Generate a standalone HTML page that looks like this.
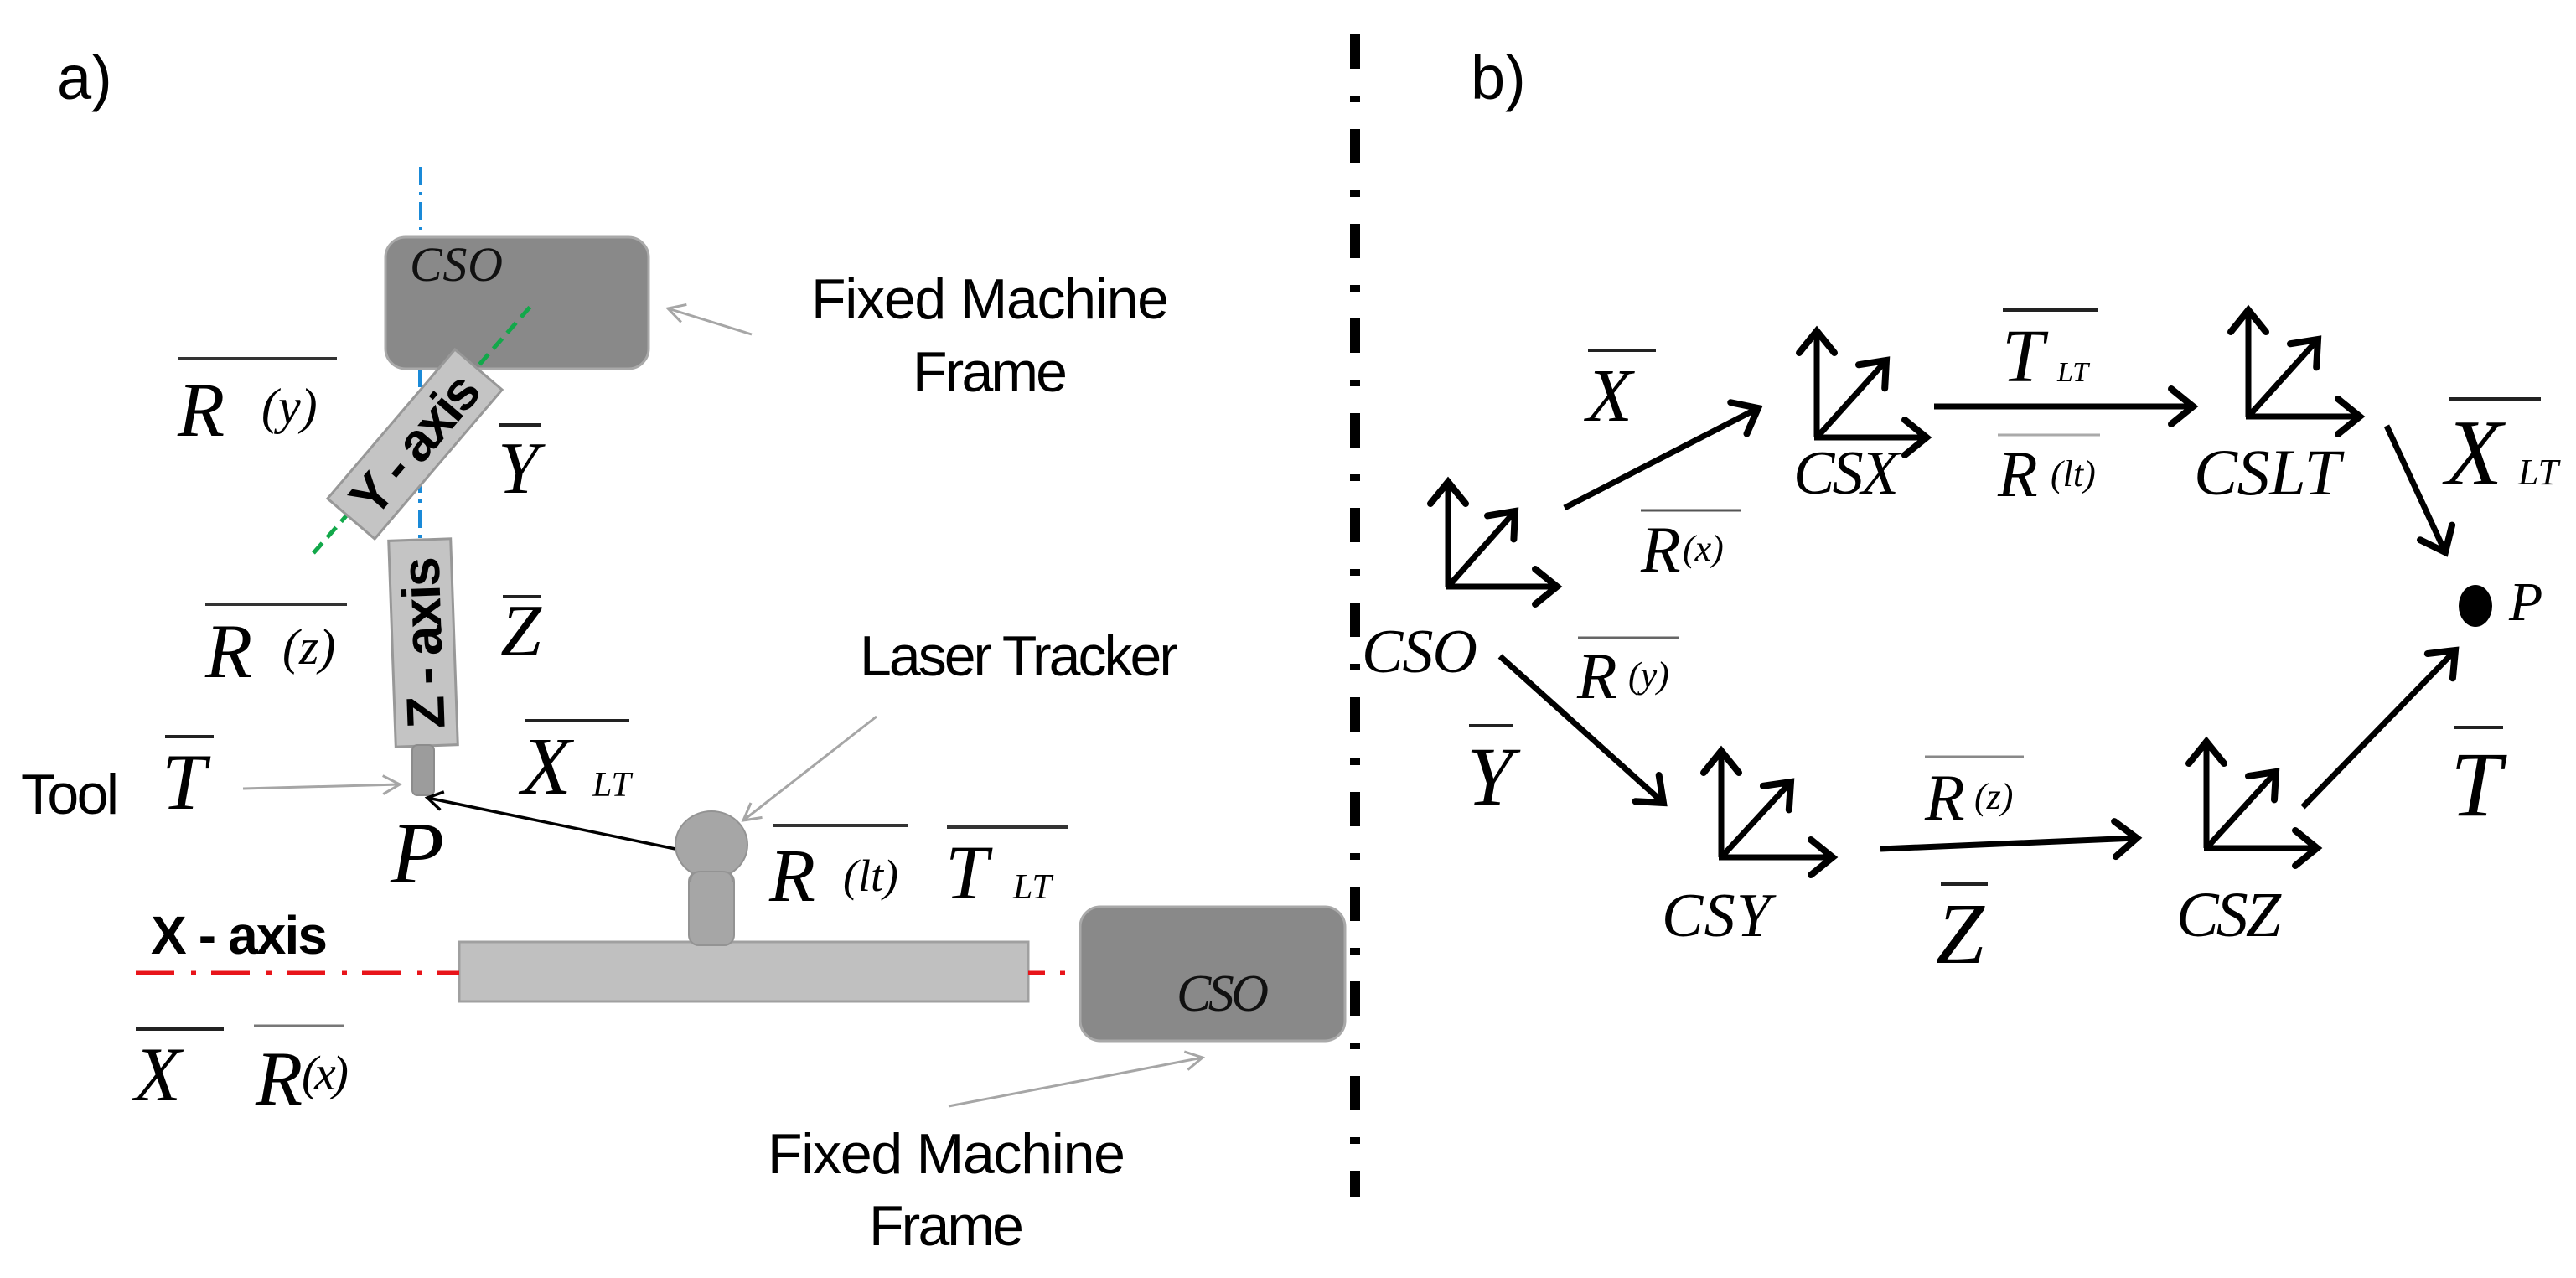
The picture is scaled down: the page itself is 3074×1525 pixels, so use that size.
<!DOCTYPE html>
<html><head><meta charset="utf-8"><style>
html,body{margin:0;padding:0;background:#fff;}
svg{display:block;}
.s{font-family:"Liberation Sans",sans-serif;}
.m{font-family:"Liberation Serif",serif;font-style:italic;}
</style></head><body>
<svg width="3074" height="1525" viewBox="0 0 3074 1525" xmlns="http://www.w3.org/2000/svg">
<defs>
<marker id="ab" markerUnits="userSpaceOnUse" markerWidth="60" markerHeight="60" refX="0" refY="0" viewBox="-40 -30 50 60" orient="auto" overflow="visible">
<path d="M-26,-21 L0,0 L-26,21" fill="none" stroke="#000" stroke-width="8" stroke-linecap="round" stroke-linejoin="miter"/>
</marker>
<marker id="ag" markerUnits="userSpaceOnUse" markerWidth="40" markerHeight="40" refX="0" refY="0" viewBox="-30 -20 40 40" orient="auto" overflow="visible">
<path d="M-20,-11 L0,0 L-20,11" fill="none" stroke="#a6a6a6" stroke-width="3"/>
</marker>
<marker id="ak" markerUnits="userSpaceOnUse" markerWidth="40" markerHeight="40" refX="0" refY="0" viewBox="-30 -20 40 40" orient="auto" overflow="visible">
<path d="M-18,-11 L0,0 L-18,11" fill="none" stroke="#000" stroke-width="3.5"/>
</marker>
</defs>

<!-- ===== Part a ===== -->
<text x="68" y="118" class="s" font-size="74">a)</text>

<line x1="502" y1="199" x2="502" y2="284" stroke="#1a8ad8" stroke-width="4" stroke-dasharray="22 8 4 8"/>
<line x1="501" y1="440" x2="501" y2="644" stroke="#1a8ad8" stroke-width="4" stroke-dasharray="22 8 4 8"/>

<rect x="460" y="283" width="314" height="157" rx="24" fill="#898989" stroke="#a9a9a9" stroke-width="3"/>
<text x="489" y="335" class="m" font-size="58" textLength="111" fill="#111">CSO</text>

<line x1="374" y1="660" x2="638" y2="360" stroke="#12a84a" stroke-width="5" stroke-dasharray="16 9"/>

<g transform="translate(495,530) rotate(-49.5)">
<rect x="-117" y="-37" width="234" height="74" fill="#c4c4c4" stroke="#989898" stroke-width="3"/>
<text x="0" y="22" text-anchor="middle" class="s" font-weight="bold" font-size="64" textLength="200">Y - axis</text>
</g>

<g transform="translate(505,767) rotate(-2)">
<rect x="-37" y="-123" width="74" height="246" fill="#c4c4c4" stroke="#989898" stroke-width="3"/>
<text transform="rotate(-90)" x="0" y="22" text-anchor="middle" class="s" font-weight="bold" font-size="64" textLength="205">Z - axis</text>
</g>
<rect x="492" y="889" width="26" height="60" rx="6" fill="#9c9c9c" stroke="#8c8c8c" stroke-width="2"/>

<line x1="212" y1="428" x2="402" y2="428" stroke="#333" stroke-width="4"/>
<text x="212" y="520" class="m" font-size="92">R</text>
<text x="312" y="505" class="m" font-size="60">(y)</text>
<line x1="595" y1="507" x2="646" y2="507" stroke="#222" stroke-width="4"/>
<text x="594" y="588" class="m" font-size="88">Y</text>
<line x1="245" y1="721" x2="414" y2="721" stroke="#333" stroke-width="4"/>
<text x="245" y="808" class="m" font-size="92">R</text>
<text x="337" y="792" class="m" font-size="60">(z)</text>
<line x1="600" y1="712" x2="646" y2="712" stroke="#222" stroke-width="4"/>
<text x="597" y="782" class="m" font-size="88">Z</text>

<text x="968" y="380" class="s" font-size="68" textLength="427">Fixed Machine</text>
<text x="1089" y="467" class="s" font-size="68" textLength="185">Frame</text>
<line x1="897" y1="399" x2="797" y2="368" stroke="#a6a6a6" stroke-width="3" marker-end="url(#ag)"/>

<text x="25" y="971" class="s" font-size="68" textLength="117">Tool</text>
<line x1="197" y1="879" x2="255" y2="879" stroke="#222" stroke-width="4"/>
<text x="193" y="965" class="m" font-size="95">T</text>
<line x1="290" y1="941" x2="477" y2="936" stroke="#a6a6a6" stroke-width="3" marker-end="url(#ag)"/>

<text x="466" y="1053" class="m" font-size="105">P</text>
<line x1="627" y1="860" x2="751" y2="860" stroke="#222" stroke-width="4"/>
<text x="622" y="947" class="m" font-size="98">X</text>
<text x="707" y="950" class="m" font-size="42">LT</text>

<text x="1026" y="806" class="s" font-size="68" textLength="380">Laser Tracker</text>
<line x1="1046" y1="855" x2="887" y2="979" stroke="#a6a6a6" stroke-width="3" marker-end="url(#ag)"/>
<line x1="806" y1="1013" x2="510" y2="952" stroke="#000" stroke-width="3.5" marker-end="url(#ak)"/>
<rect x="548" y="1124" width="679" height="71" fill="#c0c0c0" stroke="#a0a0a0" stroke-width="3"/>
<rect x="822" y="1040" width="54" height="88" rx="12" fill="#a6a6a6" stroke="#939393" stroke-width="2"/>
<ellipse cx="849" cy="1008" rx="43" ry="40" fill="#a6a6a6" stroke="#939393" stroke-width="2"/>
<rect x="824" y="1040" width="50" height="16" rx="8" fill="#a6a6a6"/>
<path d="M824,1052 Q824,1040 836,1040 L862,1040 Q874,1040 874,1052" fill="none" stroke="#939393" stroke-width="2"/>

<line x1="922" y1="985" x2="1083" y2="985" stroke="#333" stroke-width="4"/>
<text x="918" y="1075" class="m" font-size="90">R</text>
<text x="1006" y="1063" class="m" font-size="54">(lt)</text>
<line x1="1130" y1="987" x2="1275" y2="987" stroke="#333" stroke-width="4"/>
<text x="1128" y="1072" class="m" font-size="92">T</text>
<text x="1209" y="1072" class="m" font-size="42">LT</text>

<text x="180" y="1138" class="s" font-weight="bold" font-size="64" textLength="211">X - axis</text>
<line x1="162" y1="1161" x2="548" y2="1161" stroke="#e8141a" stroke-width="5" stroke-dasharray="46 20 6 18"/>
<line x1="1227" y1="1161" x2="1290" y2="1161" stroke="#e8141a" stroke-width="5" stroke-dasharray="20 18 6 18"/>

<rect x="1289" y="1082" width="316" height="160" rx="24" fill="#898989" stroke="#a9a9a9" stroke-width="3"/>
<text x="1404" y="1206" class="m" font-size="62" textLength="110" fill="#111">CSO</text>
<line x1="1132" y1="1320" x2="1435" y2="1262" stroke="#a6a6a6" stroke-width="3" marker-end="url(#ag)"/>
<text x="916" y="1400" class="s" font-size="68" textLength="427">Fixed Machine</text>
<text x="1037" y="1486" class="s" font-size="68" textLength="185">Frame</text>

<line x1="162" y1="1228" x2="267" y2="1228" stroke="#222" stroke-width="4"/>
<text x="160" y="1313" class="m" font-size="92">X</text>
<line x1="303" y1="1224" x2="410" y2="1224" stroke="#777" stroke-width="3"/>
<text x="305" y="1318" class="m" font-size="92">R</text>
<text x="360" y="1300" class="m" font-size="58" textLength="56">(x)</text>

<line x1="1617" y1="41" x2="1617" y2="1428" stroke="#000" stroke-width="12" stroke-dasharray="41 32 8 32"/>

<!-- ===== Part b ===== -->
<text x="1755" y="118" class="s" font-size="74">b)</text>

<g stroke="#000" stroke-width="7" fill="none" marker-end="url(#ab)">
<line x1="1728" y1="700" x2="1728" y2="575"/>
<line x1="1725" y1="700" x2="1858" y2="700"/>
<line x1="1728" y1="700" x2="1808" y2="610"/>
<line x1="2168" y1="522" x2="2168" y2="395"/>
<line x1="2165" y1="522" x2="2299" y2="522"/>
<line x1="2168" y1="522" x2="2251" y2="430"/>
<line x1="2683" y1="497" x2="2683" y2="370"/>
<line x1="2680" y1="497" x2="2816" y2="497"/>
<line x1="2683" y1="497" x2="2766" y2="405"/>
<line x1="2054" y1="1023" x2="2054" y2="896"/>
<line x1="2051" y1="1023" x2="2187" y2="1023"/>
<line x1="2054" y1="1023" x2="2137" y2="933"/>
<line x1="2633" y1="1012" x2="2633" y2="885"/>
<line x1="2630" y1="1012" x2="2765" y2="1012"/>
<line x1="2633" y1="1012" x2="2716" y2="921"/>
<line x1="1867" y1="606" x2="2098" y2="487"/>
<line x1="2308" y1="485" x2="2617" y2="485"/>
<line x1="2848" y1="508" x2="2918" y2="659"/>
<line x1="1790" y1="783" x2="1985" y2="958"/>
<line x1="2244" y1="1013" x2="2550" y2="1000"/>
<line x1="2748" y1="963" x2="2930" y2="776"/>
</g>

<text x="1625" y="802" class="m" font-size="74" textLength="138">CSO</text>
<text x="2140" y="589" class="m" font-size="74" textLength="126">CSX</text>
<text x="2618" y="590" class="m" font-size="78" textLength="175">CSLT</text>
<text x="1983" y="1117" class="m" font-size="74" textLength="130">CSY</text>
<text x="2597" y="1117" class="m" font-size="76" textLength="125">CSZ</text>

<line x1="1895" y1="418" x2="1976" y2="418" stroke="#222" stroke-width="4"/>
<text x="1893" y="502" class="m" font-size="90">X</text>
<line x1="1958" y1="609" x2="2077" y2="609" stroke="#555" stroke-width="3"/>
<text x="1958" y="682" class="m" font-size="78">R</text>
<text x="2008" y="669" class="m" font-size="44">(x)</text>

<line x1="2390" y1="370" x2="2504" y2="370" stroke="#222" stroke-width="4"/>
<text x="2389" y="455" class="m" font-size="90">T</text>
<text x="2455" y="455" class="m" font-size="34">LT</text>
<line x1="2384" y1="519" x2="2506" y2="519" stroke="#aaa" stroke-width="3"/>
<text x="2384" y="592" class="m" font-size="78">R</text>
<text x="2447" y="580" class="m" font-size="44">(lt)</text>

<line x1="2923" y1="476" x2="3032" y2="476" stroke="#222" stroke-width="4"/>
<text x="2918" y="578" class="m" font-size="112">X</text>
<text x="3005" y="578" class="m" font-size="44">LT</text>

<ellipse cx="2954" cy="723" rx="20" ry="25" fill="#000"/>
<text x="2994" y="740" class="m" font-size="66">P</text>

<line x1="1883" y1="761" x2="2004" y2="761" stroke="#666" stroke-width="3"/>
<text x="1882" y="833" class="m" font-size="78">R</text>
<text x="1943" y="820" class="m" font-size="44">(y)</text>
<line x1="1753" y1="866" x2="1805" y2="866" stroke="#222" stroke-width="4"/>
<text x="1750" y="960" class="m" font-size="100">Y</text>

<line x1="2297" y1="903" x2="2415" y2="903" stroke="#888" stroke-width="3"/>
<text x="2297" y="978" class="m" font-size="78">R</text>
<text x="2356" y="965" class="m" font-size="44">(z)</text>
<line x1="2316" y1="1055" x2="2372" y2="1055" stroke="#222" stroke-width="4"/>
<text x="2310" y="1149" class="m" font-size="104">Z</text>

<line x1="2928" y1="868" x2="2987" y2="868" stroke="#222" stroke-width="4"/>
<text x="2924" y="973" class="m" font-size="110">T</text>
</svg>
</body></html>
